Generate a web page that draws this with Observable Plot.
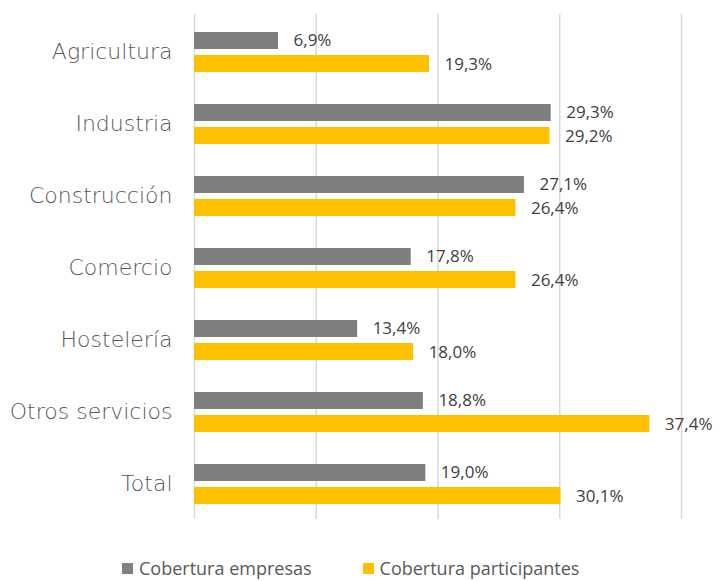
<!DOCTYPE html>
<html>
<head>
<meta charset="utf-8">
<script src="https://cdn.jsdelivr.net/npm/d3@7"></script>
<script src="https://cdn.jsdelivr.net/npm/@observablehq/plot@0.6"></script>
<style>
  html, body { margin: 0; padding: 0; background: #fff; }
  #chart { width: 724px; }
  .legend { display: flex; font-family: "Open Sans", sans-serif; font-size: 18px; color: #595959; padding-left: 122px; margin-top: 12px; line-height: 22px; }
  .legend .item { display: flex; align-items: center; }
  .legend .sw { width: 11px; height: 11px; margin-right: 6px; }
</style>
</head>
<body>
<div id="chart"></div>
<script>
const categories = ["Agricultura", "Industria", "Construcción", "Comercio", "Hostelería", "Otros servicios", "Total"];
const empresas = [6.9, 29.3, 27.1, 17.8, 13.4, 18.8, 19.0];
const participantes = [19.3, 29.2, 26.4, 26.4, 18.0, 37.4, 30.1];
const seriesNames = ["Cobertura empresas", "Cobertura participantes"];
const colors = ["#7f7f7f", "#ffc000"];
const gridTicks = [0, 10, 20, 30, 40];

const dataE = categories.map((c, i) => ({cat: c, v: empresas[i]}));
const dataP = categories.map((c, i) => ({cat: c, v: participantes[i]}));
const fmt = v => v.toFixed(1).replace(".", ",") + "%";

const chart = Plot.plot({
  width: 724,
  height: 545,
  marginTop: 14,
  marginBottom: 26,
  marginLeft: 194,
  marginRight: 43,
  style: {fontFamily: "DejaVu Sans, sans-serif", background: "#fff"},
  x: {domain: [0, 40], axis: null},
  y: {domain: categories, padding: 0, axis: null},
  marks: [
    Plot.ruleX(gridTicks, {stroke: "#d9d9d9", strokeWidth: 1.5}),
    Plot.barX(dataE, {y: "cat", x: "v", fill: colors[0], insetTop: 17, insetBottom: 38}),
    Plot.barX(dataP, {y: "cat", x: "v", fill: colors[1], insetTop: 40, insetBottom: 15}),
    Plot.text(dataE, {y: "cat", x: "v", text: d => fmt(d.v), dx: 15, dy: -11, textAnchor: "start", fontSize: 17, fill: "#404040", fontFamily: "Open Sans, sans-serif"}),
    Plot.text(dataP, {y: "cat", x: "v", text: d => fmt(d.v), dx: 15, dy: 13, textAnchor: "start", fontSize: 17, fill: "#404040", fontFamily: "Open Sans, sans-serif"}),
    Plot.axisY({tickSize: 0, tickPadding: 22, fontSize: 22, fontWeight: 200, color: "#595959", label: null})
  ]
});
document.getElementById("chart").appendChild(chart);

const legend = document.createElement("div");
legend.className = "legend";
seriesNames.forEach((name, i) => {
  const item = document.createElement("div");
  item.className = "item";
  if (i > 0) item.style.marginLeft = "51px";
  const sw = document.createElement("span");
  sw.className = "sw";
  sw.style.background = colors[i];
  const t = document.createElement("span");
  t.textContent = name;
  item.appendChild(sw);
  item.appendChild(t);
  legend.appendChild(item);
});
document.getElementById("chart").appendChild(legend);
</script>
</body>
</html>
